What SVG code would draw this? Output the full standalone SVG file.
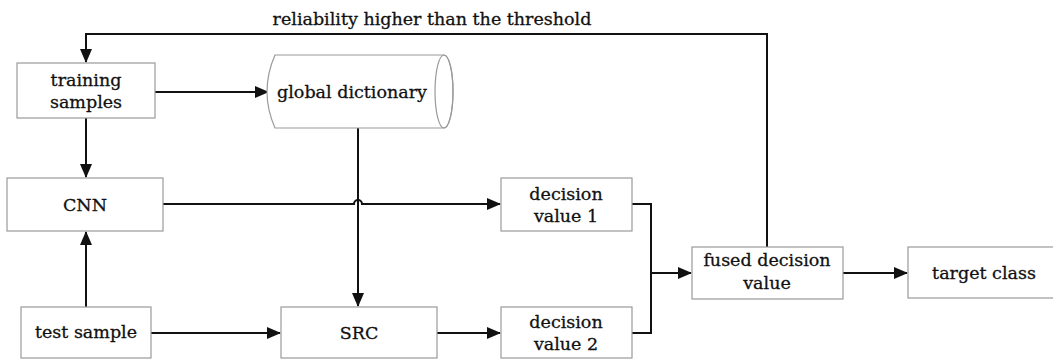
<svg xmlns="http://www.w3.org/2000/svg" width="1053" height="359" viewBox="0 0 1053 359">
<style>
.box{fill:#fff;stroke:#9a9a9a;stroke-width:1.2}
.t{font-family:"DejaVu Serif","Liberation Serif",serif;font-size:17.5px;fill:#111;stroke:#111;stroke-width:0.3;text-anchor:middle}
.c{fill:none;stroke:#111;stroke-width:2}
</style>
<defs>
<marker id="ah" markerUnits="userSpaceOnUse" markerWidth="14" markerHeight="12" refX="13" refY="6" orient="auto">
<path d="M0,0 L14,6 L0,12 z" fill="#111"/>
</marker>
</defs>
<rect width="1053" height="359" fill="#fff"/>
<g id="connectors">
<path class="c" d="M767,247 V34 H86 V62" marker-end="url(#ah)"/>
<path class="c" d="M155,92 H268" marker-end="url(#ah)"/>
<path class="c" d="M86,118 V177" marker-end="url(#ah)"/>
<path class="c" d="M86,307 V232" marker-end="url(#ah)"/>
<path class="c" d="M163,204 H354 a4,4 0 0 1 8,0 H500" marker-end="url(#ah)"/>
<path class="c" d="M358,128 V306" marker-end="url(#ah)"/>
<path class="c" d="M151,333 H280" marker-end="url(#ah)"/>
<path class="c" d="M437,333 H500" marker-end="url(#ah)"/>
<path class="c" d="M632,204 H651 V333 H632"/>
<path class="c" d="M651,273 H691" marker-end="url(#ah)"/>
<path class="c" d="M843,273 H907" marker-end="url(#ah)"/>
</g>
<text class="t" x="432" y="25">reliability higher than the threshold</text>
<g id="training">
<rect class="box" x="17" y="63" width="138" height="55"/>
<text class="t" x="86" y="86">training</text>
<text class="t" x="86" y="108">samples</text>
</g>
<g id="dictionary">
<path class="box" d="M275,55 H444 A9,36.5 0 0 1 444,128 H275 Q259,91.5 275,55 z"/>
<ellipse class="box" cx="444" cy="91.5" rx="9" ry="36.5" style="fill:none"/>
<text class="t" x="352" y="98">global dictionary</text>
</g>
<g id="cnn">
<rect class="box" x="7" y="178" width="156" height="53"/>
<text class="t" x="85" y="211">CNN</text>
</g>
<g id="test">
<rect class="box" x="21" y="307" width="130" height="51"/>
<text class="t" x="86" y="338">test sample</text>
</g>
<g id="src">
<rect class="box" x="281" y="307" width="156" height="51"/>
<text class="t" x="359" y="339">SRC</text>
</g>
<g id="dv1">
<rect class="box" x="501" y="178" width="131" height="53"/>
<text class="t" x="566" y="200">decision</text>
<text class="t" x="566" y="222">value 1</text>
</g>
<g id="dv2">
<rect class="box" x="501" y="307" width="131" height="51"/>
<text class="t" x="566" y="328">decision</text>
<text class="t" x="566" y="350">value 2</text>
</g>
<g id="fused">
<rect class="box" x="692" y="247" width="151" height="52"/>
<text class="t" x="767" y="266">fused decision</text>
<text class="t" x="767" y="289">value</text>
</g>
<g id="target">
<rect class="box" x="908" y="247" width="152" height="51"/>
<text class="t" x="984" y="279">target class</text>
</g>
</svg>
